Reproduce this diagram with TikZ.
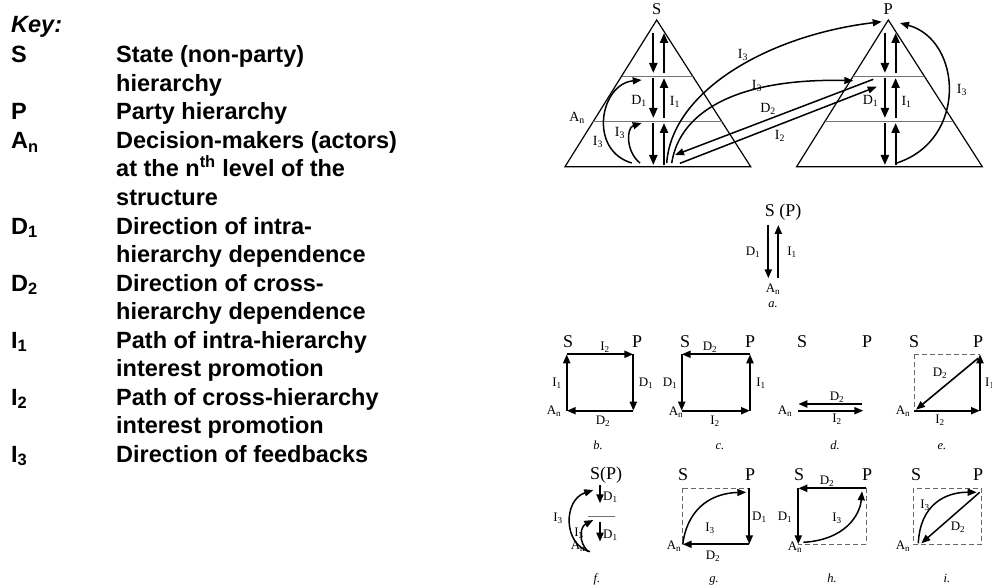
\documentclass[tikz,border=0pt]{standalone}
\usepackage{fontspec}
\setmainfont{Liberation Serif}
\newfontfamily\keyfont{Liberation Sans}
\usetikzlibrary{arrows.meta,calc}
\tikzset{
 keyt/.style={anchor=base west, inner sep=0pt, font=\keyfont\bfseries\fontsize{23.5}{28.5}\selectfont},
 tri/.style={line width=1.2pt},
 lvl/.style={line width=1pt, draw=black!55},
 va/.style={line width=2.2pt, -{Triangle[length=10pt,width=8pt]}},
 ca/.style={line width=1.5pt, -{Triangle[length=9pt,width=7pt]}},
 sa/.style={line width=2pt, -{Triangle[length=9pt,width=7pt]}},
 dsh/.style={line width=1pt, draw=black!60, dash pattern=on 5pt off 3pt},
 toplab/.style={inner sep=0pt, font=\fontsize{16.5}{16.5}\selectfont},
 hd/.style={inner sep=0pt, font=\fontsize{18}{18}\selectfont},
 lb/.style={inner sep=0pt, font=\fontsize{14}{14}\selectfont},
 sl/.style={inner sep=0pt, font=\fontsize{13}{13}\selectfont},
 capt/.style={inner sep=0pt, font=\itshape\fontsize{12.5}{12.5}\selectfont},
}
\begin{document}
\begin{tikzpicture}[x=1pt,y=-1pt]
\useasboundingbox (0,0) rectangle (992,585);

% ---------------- Key ----------------
\node[keyt, font=\keyfont\bfseries\itshape\fontsize{23.5}{28.5}\selectfont] (kh) at (11,33) {Key:};
\node[keyt] (k1) at (11,63) {S};
\node[keyt] (k2) at (11,120) {P};
\node[keyt] (k3) at (11,148.5) {A\textsubscript{n}};
\node[keyt] (k4) at (11,234) {D\textsubscript{1}};
\node[keyt] (k5) at (11,291) {D\textsubscript{2}};
\node[keyt] (k6) at (11,348) {I\textsubscript{1}};
\node[keyt] (k7) at (11,405) {I\textsubscript{2}};
\node[keyt] (k8) at (11,462) {I\textsubscript{3}};
\node[keyt] (d1) at (116,63) {State (non-party)};
\node[keyt] (d2) at (116,91.5) {hierarchy};
\node[keyt] (d3) at (116,120) {Party hierarchy};
\node[keyt] (d4) at (116,148.5) {Decision-makers (actors)};
\node[keyt] (d5) at (116,177) {at the n\textsuperscript{th} level of the};
\node[keyt] (d6) at (116,205.5) {structure};
\node[keyt] (d7) at (116,234) {Direction of intra-};
\node[keyt] (d8) at (116,262.5) {hierarchy dependence};
\node[keyt] (d9) at (116,291) {Direction of cross-};
\node[keyt] (d10) at (116,319.5) {hierarchy dependence};
\node[keyt] (d11) at (116,348) {Path of intra-hierarchy};
\node[keyt] (d12) at (116,376.5) {interest promotion};
\node[keyt] (d13) at (116,405) {Path of cross-hierarchy};
\node[keyt] (d14) at (116,433.5) {interest promotion};
\node[keyt] (d15) at (116,462) {Direction of feedbacks};

% ---------------- Pyramids ----------------
\foreach \n/\dx in {S/0, P/231.6} {
 \begin{scope}[xshift=\dx pt]
  \coordinate (\n-a) at (656.7,20);
  \coordinate (\n-l) at (565,166.7);
  \coordinate (\n-r) at (750.7,166.7);
  \draw[tri] (\n-a) -- (\n-l) -- (\n-r) -- cycle;
  \draw[lvl] ($(\n-a)!0.382!(\n-l)$) -- ($(\n-a)!0.382!(\n-r)$);
  \draw[lvl] ($(\n-a)!0.693!(\n-l)$) -- ($(\n-a)!0.693!(\n-r)$);
  \node[toplab] (\n-t) at (656.7,9) {\n};
  \foreach \ya/\yb in {33/73, 78/118, 123/165} {
   \draw[va] (653.3,\ya) -- (653.3,\yb);
   \draw[va] (664,\yb) -- (664,\ya);
  }
  \node[lb] (\n-d1) at (639,101) {D\textsubscript{1}};
  \node[lb] (\n-i1) at (675,102) {I\textsubscript{1}};
 \end{scope}
}
% S internal feedbacks
\coordinate (sf1a) at (631.7,163); \coordinate (sf1b) at (641.7,80);
\coordinate (sf2a) at (640,163); \coordinate (sf2b) at (641.7,123);
\draw[ca] (sf1a) .. controls (588,150) and (600,84) .. (sf1b);
\draw[ca] (sf2a) .. controls (626,152) and (626,128) .. (sf2b);
\node[lb] (S-an) at (577,118) {A\textsubscript{n}};
\node[lb] (S-i3a) at (598,142) {I\textsubscript{3}};
\node[lb] (S-i3b) at (620,133) {I\textsubscript{3}};
% P feedback
\coordinate (pfa) at (896.7,163); \coordinate (pfb) at (900,23);
\draw[ca] (pfa) .. controls (968,140) and (962,40) .. (pfb);
\node[lb] (P-i3) at (962,90) {I\textsubscript{3}};
% cross arrows
\coordinate (x1a) at (666.7,163); \coordinate (x1b) at (881.7,21.7);
\coordinate (x2a) at (671.7,163); \coordinate (x2b) at (853.3,80.7);
\coordinate (x3a) at (873.3,79.3); \coordinate (x3b) at (675,155);
\coordinate (x4a) at (680,163.3); \coordinate (x4b) at (876.7,86.7);
\draw[ca] (x1a) .. controls (672,90) and (770,35) .. (x1b);
\draw[ca] (x2a) .. controls (680,110) and (740,78) .. (x2b);
\draw[ca] (x3a) -- (x3b);
\draw[ca] (x4a) -- (x4b);
\node[lb] (x1l) at (743,55) {I\textsubscript{3}};
\node[lb] (x2l) at (757,86) {I\textsubscript{3}};
\node[lb] (x3l) at (768,109) {D\textsubscript{2}};
\node[lb] (x4l) at (780,136) {I\textsubscript{2}};

% ---------------- a ----------------
\node[hd] (a-h) at (783,211.7) {S (P)};
\coordinate (a-d1) at (768.3,225); \coordinate (a-d2) at (768.3,278.3);
\coordinate (a-u1) at (778.3,278.3); \coordinate (a-u2) at (778.3,225);
\draw[sa] (a-d1) -- (a-d2);
\draw[sa] (a-u1) -- (a-u2);
\node[sl] (a-dl) at (753,252) {D\textsubscript{1}};
\node[sl] (a-il) at (792,252) {I\textsubscript{1}};
\node[sl] (a-an) at (773,289) {A\textsubscript{n}};
\node[capt] (a-c) at (773,305) {a.};

% ---------------- b ----------------
\coordinate (b-tl) at (566.7,354.3); \coordinate (b-tr) at (633.3,354.3);
\coordinate (b-bl) at (566.7,410.7); \coordinate (b-br) at (633.3,410.7);
\draw[sa] (b-tl) -- (b-tr);
\draw[sa] (b-tr) -- (b-br);
\draw[sa] (b-br) -- (b-bl);
\draw[sa] (b-bl) -- (b-tl);
\node[hd] (b-s) at (568,342) {S};
\node[hd] (b-p) at (637,342) {P};
\node[sl, anchor=south] (b-i2) at (605,353) {I\textsubscript{2}};
\node[sl] (b-d1) at (646,383) {D\textsubscript{1}};
\node[sl] (b-d2) at (603,421) {D\textsubscript{2}};
\node[sl] (b-i1) at (557,383) {I\textsubscript{1}};
\node[sl] (b-an) at (554,411) {A\textsubscript{n}};
\node[capt, anchor=base] (b-c) at (598,449) {b.};

% ---------------- c ----------------
\coordinate (c-tl) at (681.7,354.3); \coordinate (c-tr) at (750,354.3);
\coordinate (c-bl) at (681.7,410.7); \coordinate (c-br) at (750,410.7);
\draw[sa] (c-tr) -- (c-tl);
\draw[sa] (c-tl) -- (c-bl);
\draw[sa] (c-bl) -- (c-br);
\draw[sa] (c-br) -- (c-tr);
\node[hd] (c-s) at (685,342) {S};
\node[hd] (c-p) at (750,342) {P};
\node[sl, anchor=south] (c-d2) at (710,353) {D\textsubscript{2}};
\node[sl] (c-d1) at (670,383) {D\textsubscript{1}};
\node[sl] (c-i2) at (715,421) {I\textsubscript{2}};
\node[sl] (c-i1) at (761,383) {I\textsubscript{1}};
\node[sl] (c-an) at (676,412) {A\textsubscript{n}};
\node[capt, anchor=base] (c-c) at (720,449) {c.};

% ---------------- d ----------------
\coordinate (d-r1) at (861.7,404); \coordinate (d-l1) at (798.3,404);
\coordinate (d-l2) at (798.3,410.7); \coordinate (d-r2) at (863.3,410.7);
\draw[sa] (d-r1) -- (d-l1);
\draw[sa] (d-l2) -- (d-r2);
\node[hd] (d-s) at (802,342) {S};
\node[hd] (d-p) at (867,342) {P};
\node[sl] (d-d2) at (837,397) {D\textsubscript{2}};
\node[sl] (d-i2) at (837,419) {I\textsubscript{2}};
\node[sl] (d-an) at (785,411) {A\textsubscript{n}};
\node[capt, anchor=base] (d-c) at (835,449) {d.};

% ---------------- e ----------------
\coordinate (e-tl) at (914,354.3); \coordinate (e-tr) at (980,354.3);
\coordinate (e-bl) at (914,410.7); \coordinate (e-br) at (980,410.7);
\draw[dsh] (e-tl) -- (e-tr);
\draw[dsh] (e-tl) -- (e-bl);
\draw[sa] (e-bl) -- (e-br);
\draw[sa] (e-br) -- (e-tr);
\draw[sa, line width=1.6pt] ($(e-tr)+(-2,4)$) -- ($(e-bl)+(2,-1)$);
\node[hd] (e-s) at (914,342) {S};
\node[hd] (e-p) at (978,342) {P};
\node[sl] (e-d2) at (940,373) {D\textsubscript{2}};
\node[sl] (e-i2) at (940,420) {I\textsubscript{2}};
\node[sl, anchor=west] (e-i1) at (985,383) {I\textsubscript{1}};
\node[sl] (e-an) at (903,411) {A\textsubscript{n}};
\node[capt, anchor=base] (e-c) at (942,449) {e.};

% ---------------- f ----------------
\coordinate (f-a1) at (600,485); \coordinate (f-a2) at (600,503.3);
\coordinate (f-b1) at (600,521.7); \coordinate (f-b2) at (600,541.7);
\coordinate (f-ll) at (588,516); \coordinate (f-lr) at (615,516);
\draw[lvl] (f-ll) -- (f-lr);
\draw[sa] (f-a1) -- (f-a2);
\draw[sa] (f-b1) -- (f-b2);
\coordinate (f-c1) at (590,551.7); \coordinate (f-c2) at (593.3,490);
\coordinate (f-e1) at (588.3,551.7); \coordinate (f-e2) at (593.3,520);
\draw[ca] (f-c1) .. controls (563,545) and (563,500) .. (f-c2);
\draw[ca] (f-e1) .. controls (578,542) and (580,527) .. (f-e2);
\node[hd] (f-h) at (606,475) {S(P)};
\node[sl, anchor=west] (f-d1a) at (603,497) {D\textsubscript{1}};
\node[sl, anchor=west] (f-d1b) at (603,535) {D\textsubscript{1}};
\node[sl] (f-i3a) at (558,518) {I\textsubscript{3}};
\node[sl] (f-i3b) at (579,533) {I\textsubscript{3}};
\node[sl] (f-an) at (578,546) {A\textsubscript{n}};
\node[capt, anchor=base] (f-c) at (597,582) {f.};

% ---------------- g ----------------
\coordinate (g-tl) at (682.7,488.3); \coordinate (g-tr) at (749.3,488.3);
\coordinate (g-bl) at (682.7,544.3); \coordinate (g-br) at (749.3,544.3);
\draw[dsh] (g-tl) -- (g-tr);
\draw[dsh] (g-tl) -- (g-bl);
\draw[sa] (g-tr) -- (g-br);
\draw[sa] (g-br) -- (g-bl);
\draw[ca] (g-bl) .. controls (688,505) and (715,493) .. ($(g-tr)+(-3,4)$);
\node[hd] (g-s) at (683,475) {S};
\node[hd] (g-p) at (750,475) {P};
\node[sl] (g-i3) at (710,528) {I\textsubscript{3}};
\node[sl] (g-d2) at (713,556) {D\textsubscript{2}};
\node[sl, anchor=west] (g-d1) at (752,517) {D\textsubscript{1}};
\node[sl] (g-an) at (674,546) {A\textsubscript{n}};
\node[capt, anchor=base] (g-c) at (714,582) {g.};

% ---------------- h ----------------
\coordinate (h-tl) at (798.3,488.3); \coordinate (h-tr) at (866,488.3);
\coordinate (h-bl) at (798.3,544.3); \coordinate (h-br) at (866,544.3);
\draw[dsh] (h-tr) -- (h-br);
\draw[dsh] (h-br) -- (h-bl);
\draw[sa] (h-tr) -- (h-tl);
\draw[sa] (h-tl) -- (h-bl);
\draw[ca] ($(h-bl)+(5,-2)$) .. controls (845,540) and (860,515) .. ($(h-tr)+(-4,3)$);
\node[hd] (h-s) at (799,475) {S};
\node[hd] (h-p) at (867,475) {P};
\node[sl, anchor=south] (h-d2) at (827,487) {D\textsubscript{2}};
\node[sl] (h-d1) at (785,517) {D\textsubscript{1}};
\node[sl] (h-i3) at (837,518) {I\textsubscript{3}};
\node[sl] (h-an) at (795,547) {A\textsubscript{n}};
\node[capt, anchor=base] (h-c) at (832,582) {h.};

% ---------------- i ----------------
\coordinate (i-tl) at (913.3,488.3); \coordinate (i-tr) at (981.7,488.3);
\coordinate (i-bl) at (913.3,544.3); \coordinate (i-br) at (981.7,544.3);
\draw[dsh] (i-tl) rectangle (i-br);
\draw[ca] ($(i-bl)+(5,-1)$) .. controls (920,505) and (945,492) .. ($(i-tr)+(-5,4)$);
\draw[ca] ($(i-tr)+(-2,4)$) -- ($(i-bl)+(8,-1)$);
\node[hd] (i-s) at (916,475) {S};
\node[hd] (i-p) at (978,475) {P};
\node[sl] (i-i3) at (925,505) {I\textsubscript{3}};
\node[sl] (i-d2) at (958,527) {D\textsubscript{2}};
\node[sl] (i-an) at (903,546) {A\textsubscript{n}};
\node[capt, anchor=base] (i-c) at (947,582) {i.};
\end{tikzpicture}
\end{document}
